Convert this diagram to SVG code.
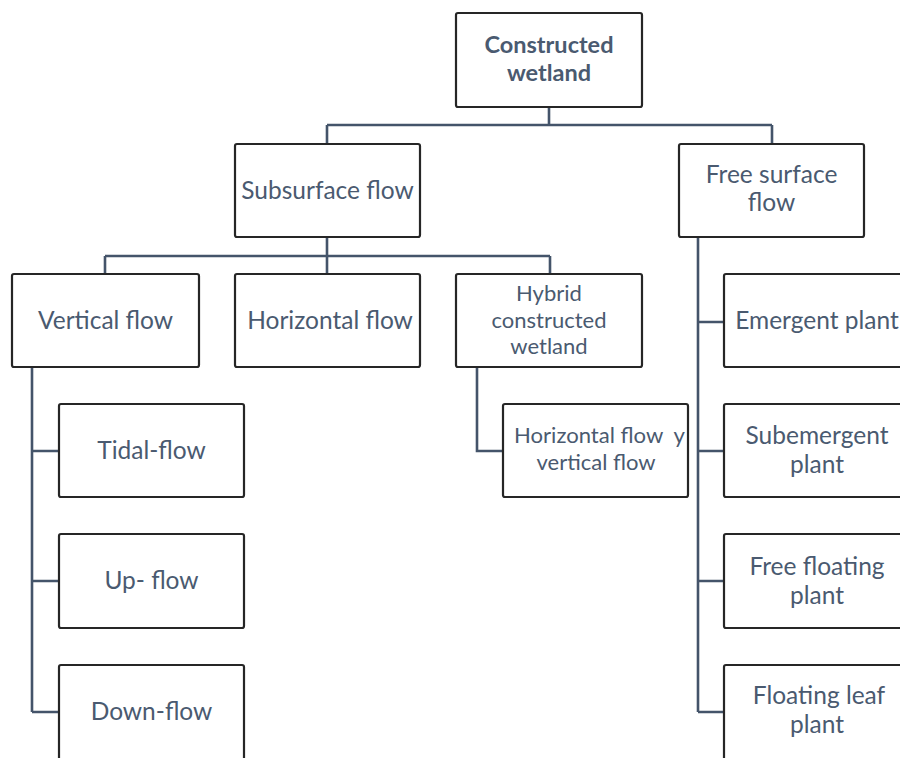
<svg xmlns="http://www.w3.org/2000/svg" width="900" height="758" viewBox="0 0 900 758">
<style>
.box{fill:#fff;stroke:#262626;stroke-width:2.2}
.t{font-family:Lato,"Liberation Sans",sans-serif;font-size:24.5px;fill:#4A5A70;text-anchor:middle}
.s{font-size:22px}
.b{font-weight:bold;font-size:23.5px}
.c{fill:none;stroke:#44546A;stroke-width:2.6}
</style>
<rect width="900" height="758" fill="#fff"/>
<g id="connectors">
<path class="c" d="M549 107V125M327 125H772M327 125V144M772 125V144"/>
<path class="c" d="M327 237V256M105 256H550M105 256V274M327 256V274M550 256V274" />
<path class="c" d="M698 237V712M698 322H724M698 451H724M698 581H724M698 712H724"/>
<path class="c" d="M32 367V712M32 451H59M32 581H59M32 712H59"/>
<path class="c" d="M477 367V451H503"/>
</g>
<g id="root"><rect class="box" x="456" y="13" width="186" height="94" rx="2"/><text class="t b" x="549" y="53">Constructed</text><text class="t b" x="549" y="81">wetland</text></g>
<g id="subsurface"><rect class="box" x="235" y="144" width="185" height="93" rx="2"/><text class="t" x="327.5" y="199">Subsurface flow</text></g>
<g id="freesurface"><rect class="box" x="679" y="144" width="185" height="93" rx="2"/><text class="t" x="771.5" y="183">Free surface</text><text class="t" x="771.5" y="211">flow</text></g>
<g id="vertical"><rect class="box" x="12" y="274" width="187" height="93" rx="2"/><text class="t" x="105.5" y="329">Vertical flow</text></g>
<g id="horizontal"><rect class="box" x="235" y="274" width="185" height="93" rx="2"/><text class="t" x="330" y="329">Horizontal flow</text></g>
<g id="hybrid"><rect class="box" x="456" y="274" width="186" height="93" rx="2"/><text class="t s" x="549" y="301">Hybrid</text><text class="t s" x="549" y="328">constructed</text><text class="t s" x="549" y="354">wetland</text></g>
<g id="emergent"><rect class="box" x="724" y="274" width="186" height="93" rx="2"/><text class="t" x="817" y="329">Emergent plant</text></g>
<g id="tidal"><rect class="box" x="59" y="404" width="185" height="93" rx="2"/><text class="t" x="151.5" y="459">Tidal-flow</text></g>
<g id="hv"><rect class="box" x="503" y="404" width="185" height="93" rx="2"/><text class="t s" x="599.5" y="443" textLength="171" lengthAdjust="spacingAndGlyphs" xml:space="preserve">Horizontal flow  y</text><text class="t s" x="596" y="470">vertical flow</text></g>
<g id="subemergent"><rect class="box" x="724" y="404" width="186" height="93" rx="2"/><text class="t" x="817" y="444">Subemergent</text><text class="t" x="817" y="473">plant</text></g>
<g id="upflow"><rect class="box" x="59" y="534" width="185" height="94" rx="2"/><text class="t" x="151.5" y="589">Up- flow</text></g>
<g id="freefloating"><rect class="box" x="724" y="534" width="186" height="94" rx="2"/><text class="t" x="817" y="575">Free floating</text><text class="t" x="817" y="604">plant</text></g>
<g id="downflow"><rect class="box" x="59" y="665" width="185" height="100" rx="2"/><text class="t" x="151.5" y="720">Down-flow</text></g>
<g id="floatingleaf"><rect class="box" x="724" y="665" width="186" height="100" rx="2"/><text class="t" x="819" y="704">Floating leaf</text><text class="t" x="817" y="733">plant</text></g>
</svg>
